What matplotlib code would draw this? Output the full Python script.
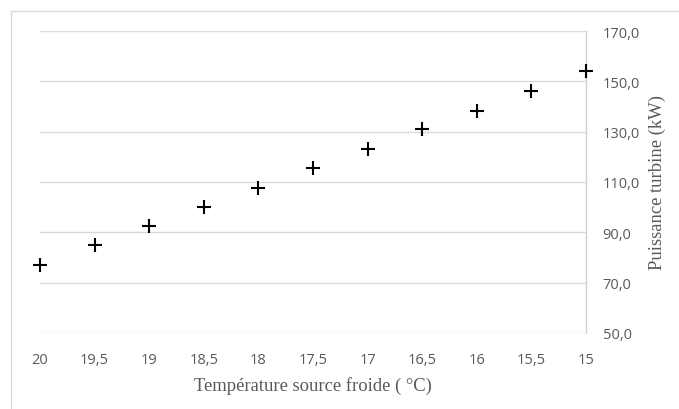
import matplotlib
matplotlib.use("Agg")
import matplotlib.pyplot as plt
from matplotlib.patches import Rectangle

categories = ["20", "19,5", "19", "18,5", "18", "17,5", "17", "16,5", "16", "15,5", "15"]
puissance = [77.0, 84.8, 92.4, 100.0, 107.7, 115.4, 123.2, 130.9, 138.4, 146.3, 154.0]
y_ticks = [50, 70, 90, 110, 130, 150, 170]
y_labels = ["50,0", "70,0", "90,0", "110,0", "130,0", "150,0", "170,0"]

W, H = 679, 410
fig = plt.figure(figsize=(W / 100, H / 100), dpi=100)
fig.patch.set_facecolor("white")

# chart-area outline
fig.patches.append(Rectangle((11 / W, -0.05), 1.0, (H - 12) / H + 0.05,
                             transform=fig.transFigure, fill=False,
                             edgecolor="#d9d9d9", linewidth=1.0))

ax = fig.add_axes([40 / W, 1 - 334 / H, (586 - 40) / W, (334 - 32) / H])
x = list(range(len(categories)))
ax.plot(x, puissance, linestyle="none", marker="+", markersize=9.5,
        markeredgewidth=1.5, color="black", clip_on=False, zorder=5)

ax.set_xlim(0, len(categories) - 1)
ax.set_ylim(50, 170)
ax.yaxis.tick_right()
ax.yaxis.set_label_position("right")
ax.set_yticks(y_ticks)
ax.set_yticklabels(y_labels)
ax.set_xticks(x)
ax.set_xticklabels(categories)

for lab in ax.get_xticklabels() + ax.get_yticklabels():
    lab.set_fontfamily("Open Sans")
    lab.set_fontsize(10.5)
    lab.set_color("#595959")
ax.tick_params(axis="both", length=0)
ax.tick_params(axis="x", pad=14)
ax.tick_params(axis="y", pad=12)

ax.grid(axis="y", color="#d9d9d9", linewidth=1.0)
ax.set_axisbelow(True)
for side in ["top", "left", "bottom"]:
    ax.spines[side].set_visible(False)
ax.spines["right"].set_color("#d0d0d0")
ax.spines["right"].set_linewidth(1.0)

ax.set_xlabel("Température source froide ( °C)", fontfamily="Liberation Serif",
              fontsize=13.4, color="#595959", labelpad=6)
ax.set_ylabel("Puissance turbine (kW)", fontfamily="Liberation Serif",
              fontsize=13.4, color="#595959", labelpad=6)

fig.savefig("out.png", dpi=100)
